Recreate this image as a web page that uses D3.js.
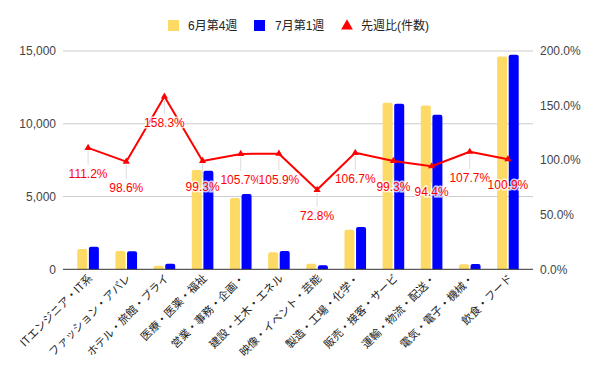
<!DOCTYPE html>
<html><head><meta charset="utf-8">
<script src="https://cdn.jsdelivr.net/npm/d3@7"></script>
<style>body{margin:0;background:#fff}</style>
</head><body><svg id="c" width="600" height="371"></svg>
<script>
const categories = ["ITエンジニア・IT系","ファッション・アパレ","ホテル・旅館・ブライ","医療・医薬・福祉","営業・事務・企画・","建設・土木・エネル","映像・イベント・芸能","製造・工場・化学・","販売・接客・サービ","運輸・物流・配送・","電気・電子・機械・","飲食・フード"];
const june4 = [1400, 1260, 240, 6820, 4900, 1180, 380, 2720, 11450, 11250, 340, 14620];
const july1 = [1557, 1242, 380, 6772, 5180, 1250, 277, 2902, 11370, 10620, 366, 14750];
const ratio = [111.2, 98.6, 158.3, 99.3, 105.7, 105.9, 72.8, 106.7, 99.3, 94.4, 107.7, 100.9];
const leftTicks = [0, 5000, 10000, 15000];
const rightTicks = [0, 50, 100, 150, 200];
const seriesNames = ["6月第4週", "7月第1週", "先週比(件数)"];
const colors = ["#fdd966", "#0000ff", "#ff0000"];

const svg = d3.select("#c");
const font = "Arial, 'Liberation Sans', 'Noto Sans CJK JP', sans-serif";
const y = d3.scaleLinear().domain([0, 15000]).range([269.3, 51]);
const yr = d3.scaleLinear().domain([0, 200]).range([269.3, 51]);
const x = d3.scaleBand().domain(categories).range([69, 527]);
const cx = c => x(c) + x.bandwidth() / 2;

// grid
svg.append("g").selectAll("line").data(leftTicks.filter(d => d > 0)).join("line")
  .attr("x1", 63).attr("x2", 533).attr("y1", d => y(d)).attr("y2", d => y(d))
  .attr("stroke", "#cccccc").attr("stroke-width", 1);

// left axis labels
const leftAxis = d3.axisLeft(y).tickValues(leftTicks).tickFormat(d3.format(",")).tickSize(0).tickPadding(0);
const gl = svg.append("g").attr("transform", "translate(56,0)").call(leftAxis);
gl.select(".domain").remove();
gl.selectAll("text").attr("font-family", font).attr("font-size", 12).attr("fill", "#444");

const rightAxis = d3.axisRight(yr).tickValues(rightTicks).tickFormat(d => d.toFixed(1) + "%").tickSize(0).tickPadding(0);
const gr = svg.append("g").attr("transform", "translate(540,0)").call(rightAxis);
gr.select(".domain").remove();
gr.selectAll("text").attr("font-family", font).attr("font-size", 12).attr("fill", "#444");

// bars
function topRounded(x0, w, yt, yb, r) {
  const h = yb - yt;
  r = Math.min(r, h, w / 2);
  return `M${x0},${yb}V${yt + r}Q${x0},${yt} ${x0 + r},${yt}H${x0 + w - r}Q${x0 + w},${yt} ${x0 + w},${yt + r}V${yb}Z`;
}
const bw = 10;
svg.append("g").selectAll("path").data(categories).join("path")
  .attr("d", (c, i) => topRounded(cx(c) - 10.8, bw, y(june4[i]), y(0), 2))
  .attr("fill", colors[0]);
svg.append("g").selectAll("path").data(categories).join("path")
  .attr("d", (c, i) => topRounded(cx(c) + 0.8, bw, y(july1[i]), y(0), 2))
  .attr("fill", colors[1]);

// baseline
svg.append("line").attr("x1", 63).attr("x2", 533).attr("y1", y(0)).attr("y2", y(0))
  .attr("stroke", "#333").attr("stroke-width", 1);

// annotation stems
svg.append("g").selectAll("line").data(categories).join("line")
  .attr("x1", c => cx(c)).attr("x2", c => cx(c))
  .attr("y1", (c, i) => yr(ratio[i]) + 3).attr("y2", (c, i) => yr(ratio[i]) + 17)
  .attr("stroke", "#dddddd").attr("stroke-width", 1);

// line
const line = d3.line().x((d, i) => cx(categories[i])).y(d => yr(d));
svg.append("path").datum(ratio).attr("d", line).attr("fill", "none")
  .attr("stroke", colors[2]).attr("stroke-width", 2).attr("stroke-linejoin", "round");
svg.append("g").selectAll("path").data(ratio).join("path")
  .attr("d", d3.symbol().type(d3.symbolTriangle).size(22))
  .attr("transform", (d, i) => `translate(${cx(categories[i])},${yr(d)})`)
  .attr("fill", colors[2]);

// annotation labels
svg.append("g").selectAll("text").data(ratio).join("text")
  .attr("x", (d, i) => cx(categories[i])).attr("y", d => yr(d) + 30)
  .attr("text-anchor", "middle").attr("font-family", font).attr("font-size", 12)
  .attr("fill", colors[2]).attr("stroke", "#fff").attr("stroke-width", 3).attr("stroke-opacity", 0.8)
  .attr("paint-order", "stroke")
  .text(d => d.toFixed(1) + "%");

// x labels
svg.append("g").selectAll("text").data(categories).join("text")
  .attr("transform", c => `translate(${cx(c) + 5},${279}) rotate(-45)`)
  .attr("text-anchor", "end").attr("font-family", "'Noto Sans CJK JP', sans-serif").attr("font-size", 11)
  .attr("fill", "#222")
  .text(c => c);

// legend
const lg = svg.append("g").attr("font-family", font).attr("font-size", 12).attr("fill", "#222");
lg.append("rect").attr("x", 168).attr("y", 20).attr("width", 11).attr("height", 11).attr("fill", colors[0]);
lg.append("text").attr("x", 188).attr("y", 30).text(seriesNames[0]);
lg.append("rect").attr("x", 254).attr("y", 20).attr("width", 11).attr("height", 11).attr("fill", colors[1]);
lg.append("text").attr("x", 275).attr("y", 30).text(seriesNames[1]);
lg.append("path").attr("d", d3.symbol().type(d3.symbolTriangle).size(60)).attr("transform", "translate(347,26)").attr("fill", colors[2]);
lg.append("text").attr("x", 361).attr("y", 30).text(seriesNames[2]);
</script></body></html>
